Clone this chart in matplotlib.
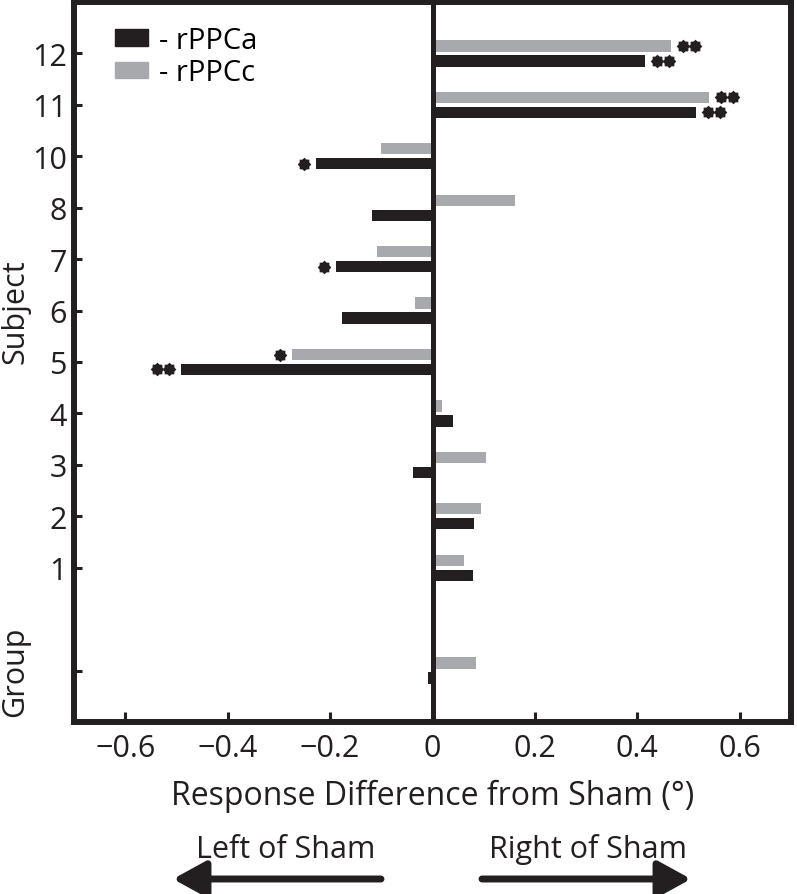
import numpy as np
import matplotlib
matplotlib.use("Agg")
import matplotlib.pyplot as plt
from matplotlib.patches import Patch, FancyArrowPatch
from matplotlib.transforms import blended_transform_factory, ScaledTranslation

plt.rcParams['font.family'] = ['Open Sans', 'DejaVu Sans']

# data (top to bottom)
labels = ['12', '11', '10', '8', '7', '6', '5', '4', '3', '2', '1', '']
positions = [11, 10, 9, 8, 7, 6, 5, 4, 3, 2, 1, -1]
rppca = [0.415, 0.515, -0.227, -0.118, -0.188, -0.177, -0.492, 0.041, -0.039, 0.082, 0.079, -0.009]
rppcc = [0.466, 0.539, -0.101, 0.162, -0.109, -0.035, -0.274, 0.019, 0.105, 0.095, 0.062, 0.085]
# number of significance stars per bar
stars_a = [2, 2, 1, 0, 1, 0, 2, 0, 0, 0, 0, 0]
stars_c = [2, 2, 0, 0, 0, 0, 1, 0, 0, 0, 0, 0]

black = '#231f20'
grey = '#a7a9ac'

fig = plt.figure(figsize=(7.97, 8.95), dpi=100)
ax = fig.add_axes([74/797, 1 - 723/895, 717/797, 720/895])

pos = np.array(positions, dtype=float)
h = 0.22
ax.barh(pos - 0.145, rppca, height=h, color=black, zorder=2)
ax.barh(pos + 0.145, rppcc, height=h, color=grey, zorder=2)
ax.axvline(0, color=black, lw=3.6, zorder=3)

# gear-like star marker
ang = np.linspace(0, 2*np.pi, 17)[:-1]
rad = np.where(np.arange(16) % 2 == 0, 1.0, 0.78)
star = list(zip(rad*np.cos(ang), rad*np.sin(ang)))

def draw_stars(vals, counts, ys):
    for v, n, y in zip(vals, counts, ys):
        for k in range(n):
            off = (12 + 12*k) * 0.72 * np.sign(v)
            tr = ax.transData + ScaledTranslation(off/72, 0, fig.dpi_scale_trans)
            ax.plot([v], [y], marker=star, ms=9.8, color=black, mec='none',
                    transform=tr, clip_on=False, zorder=4)

draw_stars(rppca, stars_a, pos - 0.145)
draw_stars(rppcc, stars_c, pos + 0.145)

ax.set_xlim(-0.7, 0.7)
ax.set_ylim(-2, 12)
ax.set_xticks([-0.6, -0.4, -0.2, 0, 0.2, 0.4, 0.6])
ax.set_xticklabels(['\u22120.6', '\u22120.4', '\u22120.2', '0', '0.2', '0.4', '0.6'])
ax.set_yticks(positions)
ax.set_yticklabels(labels)
ax.tick_params(axis='both', direction='in', labelsize=22, colors=black, width=2.2)
ax.tick_params(axis='y', length=5.5, pad=5)
ax.tick_params(axis='x', length=7, pad=8)
for s in ax.spines.values():
    s.set_linewidth(4.3)
    s.set_color(black)

ax.set_xlabel('Response Difference from Sham (\u00b0)', fontsize=23, color=black, labelpad=11)
btr = blended_transform_factory(ax.transAxes, ax.transData)
ax.text(-0.082, 6, 'Subject', transform=btr, rotation=90, ha='center', va='center',
        fontsize=22, color=black)
ax.text(-0.082, -1, 'Group', transform=btr, rotation=90, ha='center', va='center',
        fontsize=22, color=black)

handles = [Patch(color=black, label='- rPPCa'), Patch(color=grey, label='- rPPCc')]
ax.legend(handles=handles, loc='upper left', bbox_to_anchor=(0.057, 0.967), frameon=False,
          fontsize=21, handlelength=1.15, handleheight=0.5, handletextpad=0.35,
          labelspacing=0.12, borderpad=0, borderaxespad=0)

# direction arrows under the axis
fig.text(286/797, 1 - 850/895, 'Left of Sham', ha='center', va='center', fontsize=22, color=black)
fig.text(588/797, 1 - 850/895, 'Right of Sham', ha='center', va='center', fontsize=22, color=black)
for x0, x1 in [(381, 173), (482, 691)]:
    arr = FancyArrowPatch((x0/797, 1 - 880/895), (x1/797, 1 - 880/895), transform=fig.transFigure,
                          arrowstyle='-|>,head_length=20,head_width=11', lw=5, color=black,
                          shrinkA=0, shrinkB=0, mutation_scale=1)
    fig.add_artist(arr)

fig.savefig('out.png', dpi=100)
